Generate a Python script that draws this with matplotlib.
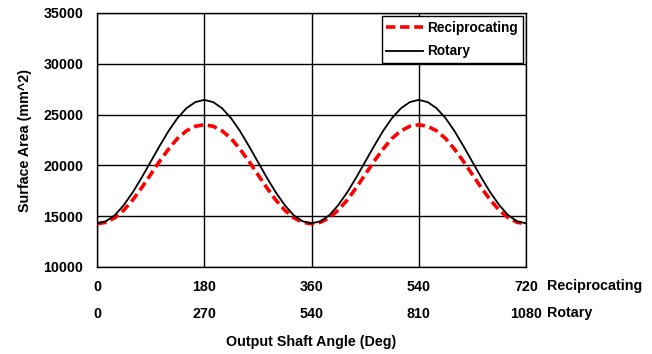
import matplotlib
matplotlib.use("Agg")
import matplotlib.pyplot as plt
from matplotlib.ticker import FixedLocator

plt.rcParams['font.family'] = ['Liberation Sans', 'DejaVu Sans']
plt.rcParams['font.weight'] = 'bold'

angle = [0, 15, 30, 45, 60, 75, 90, 105, 120, 135, 150, 165, 180,
         195, 210, 225, 240, 255, 270, 285, 300, 315, 330, 345, 360,
         375, 390, 405, 420, 435, 450, 465, 480, 495, 510, 525, 540,
         555, 570, 585, 600, 615, 630, 645, 660, 675, 690, 705, 720]

reciprocating = [14250, 14400, 14850, 15600, 16600, 17800, 19100, 20400, 21600, 22650, 23400, 23850, 24000,
                 23850, 23400, 22650, 21600, 20400, 19100, 17800, 16600, 15600, 14850, 14400, 14250,
                 14400, 14850, 15600, 16600, 17800, 19100, 20400, 21600, 22650, 23400, 23850, 24000,
                 23850, 23400, 22650, 21600, 20400, 19100, 17800, 16600, 15600, 14850, 14400, 14250]

rotary = [14300, 14500, 15100, 16100, 17350, 18800, 20350, 21900, 23380, 24650, 25620, 26230, 26450,
          26230, 25620, 24650, 23380, 21900, 20350, 18800, 17350, 16100, 15100, 14500, 14300,
          14500, 15100, 16100, 17350, 18800, 20350, 21900, 23380, 24650, 25620, 26230, 26450,
          26230, 25620, 24650, 23380, 21900, 20350, 18800, 17350, 16100, 15100, 14500, 14300]

recip_ticks = [0, 180, 360, 540, 720]
rotary_ticks = [0, 270, 540, 810, 1080]
y_ticks = [10000, 15000, 20000, 25000, 30000, 35000]

FS = 10.3

fig = plt.figure(figsize=(6.52, 3.54), dpi=100)
ax = fig.add_axes([97/652, 1 - 267/354, (526 - 97)/652, (267 - 13)/354])

ax.plot(angle, reciprocating, color='#ff0000', lw=2.6, ls=(0, (2.6, 1.3)), label='Reciprocating', zorder=3)
ax.plot(angle, rotary, color='black', lw=1.3, label='Rotary', zorder=4)

ax.set_xlim(0, 720)
ax.set_ylim(10000, 35000)
ax.set_xticks(recip_ticks)
ax.set_yticks(y_ticks)
ax.grid(True, color='black', lw=1)
ax.tick_params(axis='both', length=0, labelsize=FS)
ax.tick_params(axis='x', pad=9.5)
ax.tick_params(axis='y', pad=10)
for s in ax.spines.values():
    s.set_color('black')
    s.set_linewidth(1)

sec = ax.secondary_xaxis(-0.106, functions=(lambda x: x * 1.5, lambda x: x / 1.5))
sec.xaxis.set_major_locator(FixedLocator(rotary_ticks))
sec.tick_params(axis='x', length=0, labelsize=FS, pad=9.5)
sec.spines['bottom'].set_visible(False)

ax.text(1.049, -0.0748, 'Reciprocating', transform=ax.transAxes, fontsize=FS,
        fontweight='bold', ha='left', va='center')
ax.text(1.049, -0.181, 'Rotary', transform=ax.transAxes, fontsize=FS,
        fontweight='bold', ha='left', va='center')

ax.set_ylabel('Surface Area (mm^2)', fontsize=FS, fontweight='bold', labelpad=8)
fig.text((97 + 526) / 2 / 652, 1 - 342 / 354, 'Output Shaft Angle (Deg)', fontsize=FS,
         fontweight='bold', ha='center', va='center')

leg = ax.legend(loc='upper right', fontsize=9.8, frameon=True, fancybox=False,
                edgecolor='black', framealpha=1, handlelength=2.7, handletextpad=0.3,
                borderaxespad=0.25, labelspacing=0.68, borderpad=0.35)
leg.get_frame().set_linewidth(1)

fig.savefig('out.png', dpi=100)
